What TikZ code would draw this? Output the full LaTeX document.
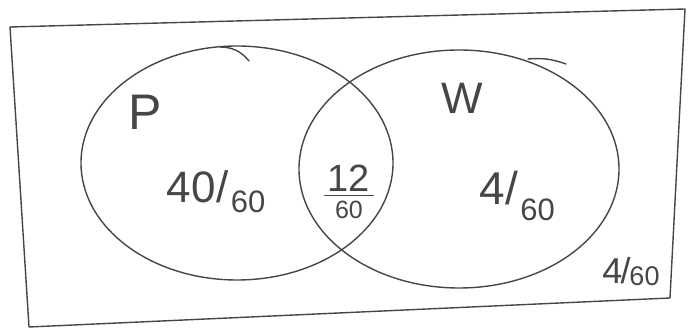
\documentclass[tikz,border=0pt]{standalone}
\usepackage{fontspec}
\setmainfont{Liberation Sans}
\usetikzlibrary{positioning}
\definecolor{penink}{RGB}{70,70,70}
\tikzset{
    pen/.style={draw=penink, line width=1.4pt, line cap=round, line join=round},
    setcircle/.style={pen},
    handtext/.style={text=penink, inner sep=0pt},
    setlabel/.style={handtext, font=\fontsize{50}{50}\selectfont},
    amount/.style={handtext, font=\fontsize{44}{44}\selectfont}
}
% numerator / lowered denominator, as handwritten
\newcommand{\handfrac}[3]{#1\kern1pt/\kern2pt\raisebox{-#3}{\fontsize{31}{31}\selectfont #2}}

\begin{document}
\begin{tikzpicture}[x=1pt, y=-1pt]
    \useasboundingbox (0,0) rectangle (689,328);

    % Universe box
    \draw[pen] (10,27) -- (685,9) -- (670,298) -- (29,327) -- cycle;

    % Sets
    \draw[setcircle] (237,163) ellipse [x radius=156pt, y radius=117pt];
    \draw[setcircle] (459,169) ellipse [x radius=160pt, y radius=119pt];
    \draw[pen] (220,47) to[bend left=25] (249,61);
    \draw[pen] (528,59) to[bend left=12] (566,64);

    % Set names
    \node[setlabel] (pname) at (145,112) {P};
    \node[setlabel, font=\fontsize{44}{44}\selectfont] (wname) at (462,98) {W};

    % Regions
    \node[amount] (ponly) at (216,192) {\handfrac{40}{60}{10pt}};
    \node[handtext, font=\fontsize{38}{38}\selectfont] (both) at (349,178) {12};
    \node[handtext, font=\fontsize{25}{25}\selectfont, below=9pt of both] (bothden) {60};
    \draw[pen, line width=1pt] ([shift={(-3pt,-4pt)}]both.south west) -- ([shift={(3pt,-4pt)}]both.south east);
    \node[amount, font=\fontsize{46}{46}\selectfont] (wonly) at (517,196) {\handfrac{4}{60}{16pt}};
    \node[handtext, font=\fontsize{36}{36}\selectfont] (outside) at (631,272) {4\kern-2pt/\kern-1pt\raisebox{-2pt}{\fontsize{27}{27}\selectfont 60}};
\end{tikzpicture}
\end{document}
